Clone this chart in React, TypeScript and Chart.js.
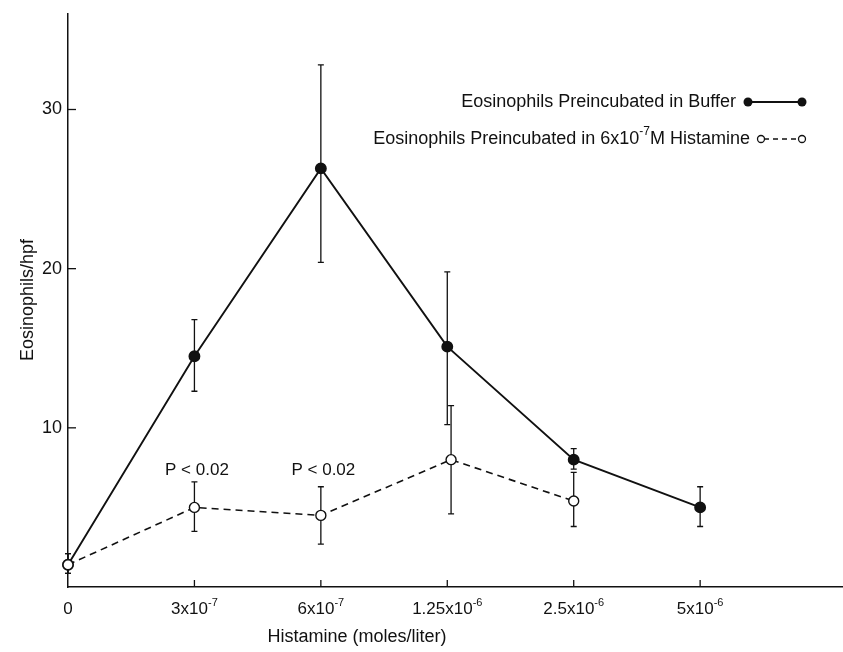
import React, { useEffect, useRef } from "react";
import { Chart, registerables } from "chart.js";

Chart.register(...registerables);

const xTickValues = [0, 1, 2, 3, 4, 5];
const xTickBase = ["0", "3x10", "6x10", "1.25x10", "2.5x10", "5x10"];
const xTickExp = ["", "-7", "-7", "-6", "-6", "-6"];
const yTickValues = [10, 20, 30];

const bufferX = [0, 1, 2, 3, 4, 5];
const bufferMean = [1.4, 14.5, 26.3, 15.1, 8.0, 5.0];
const bufferLow = [0.85, 12.3, 20.4, 10.2, 7.4, 3.8];
const bufferHigh = [2.1, 16.8, 32.8, 19.8, 8.7, 6.3];

const histX = [0, 1, 2, 3.03, 4];
const histMean = [1.4, 5.0, 4.5, 8.0, 5.4];
const histLow = [0.85, 3.5, 2.7, 4.6, 3.8];
const histHigh = [2.1, 6.6, 6.3, 11.4, 7.2];

const pLabelX = [1.02, 2.02];
const pLabelY = [7.3, 7.3];
const pLabelText = "P < 0.02";

const legendBuffer = "Eosinophils Preincubated in Buffer";
const legendHistPre = "Eosinophils Preincubated in 6x10";
const legendHistExp = "-7";
const legendHistPost = "M Histamine";
const yTitle = "Eosinophils/hpf";
const xTitle = "Histamine (moles/liter)";

const FONT = "'Liberation Sans', Arial, Helvetica, sans-serif";

type Seg = { t: string; sup?: boolean };

function drawSegs(ctx: CanvasRenderingContext2D, segs: Seg[], x: number, y: number, size: number, align: "left" | "center" | "right") {
  const supSize = Math.round(size * 0.65);
  const widths = segs.map((s) => {
    ctx.font = `${s.sup ? supSize : size}px ${FONT}`;
    return ctx.measureText(s.t).width;
  });
  const total = widths.reduce((a, b) => a + b, 0);
  let cx = align === "left" ? x : align === "center" ? x - total / 2 : x - total;
  ctx.textAlign = "left";
  ctx.textBaseline = "middle";
  segs.forEach((s, i) => {
    ctx.font = `${s.sup ? supSize : size}px ${FONT}`;
    ctx.fillText(s.t, cx, s.sup ? y - size * 0.38 : y);
    cx += widths[i];
  });
}

export default function App() {
  const ref = useRef<HTMLCanvasElement | null>(null);

  useEffect(() => {
    const canvas = ref.current;
    if (!canvas) return;

    const errorBars = {
      id: "errorBars",
      beforeDatasetsDraw(chart: any) {
        const ctx = chart.ctx;
        const xs = chart.scales.x;
        const ys = chart.scales.y;
        ctx.save();
        ctx.strokeStyle = "#111";
        ctx.lineWidth = 1.3;
        const draw = (xv: number[], lo: number[], hi: number[]) => {
          xv.forEach((x, i) => {
            const px = xs.getPixelForValue(x);
            const pl = ys.getPixelForValue(lo[i]);
            const ph = ys.getPixelForValue(hi[i]);
            ctx.beginPath();
            ctx.moveTo(px, pl);
            ctx.lineTo(px, ph);
            ctx.moveTo(px - 3, pl);
            ctx.lineTo(px + 3, pl);
            ctx.moveTo(px - 3, ph);
            ctx.lineTo(px + 3, ph);
            ctx.stroke();
          });
        };
        draw(bufferX, bufferLow, bufferHigh);
        draw(histX, histLow, histHigh);
        ctx.restore();
      },
    };

    const decorations = {
      id: "decorations",
      afterDraw(chart: any) {
        const ctx = chart.ctx;
        const xs = chart.scales.x;
        const ys = chart.scales.y;
        const area = chart.chartArea;
        ctx.save();
        ctx.strokeStyle = "#111";
        ctx.lineWidth = 1.3;
        // inward ticks
        yTickValues.forEach((v) => {
          const py = ys.getPixelForValue(v);
          ctx.beginPath();
          ctx.moveTo(area.left, py);
          ctx.lineTo(area.left + 8, py);
          ctx.stroke();
        });
        xTickValues.forEach((v) => {
          if (v === 0) return;
          const px = xs.getPixelForValue(v);
          ctx.beginPath();
          ctx.moveTo(px, area.bottom);
          ctx.lineTo(px, area.bottom - 7);
          ctx.stroke();
        });
        ctx.fillStyle = "#111";
        // x tick labels with superscripts
        xTickValues.forEach((v, i) => {
          const segs: Seg[] = [{ t: xTickBase[i] }];
          if (xTickExp[i]) segs.push({ t: xTickExp[i], sup: true });
          drawSegs(ctx, segs, xs.getPixelForValue(v), area.bottom + 22, 17, "center");
        });
        // P labels
        ctx.font = `17px ${FONT}`;
        ctx.textAlign = "center";
        ctx.textBaseline = "middle";
        pLabelX.forEach((x, i) => {
          ctx.fillText(pLabelText, xs.getPixelForValue(x), ys.getPixelForValue(pLabelY[i]));
        });
        // axis titles
        ctx.font = `18px ${FONT}`;
        ctx.textAlign = "center";
        ctx.textBaseline = "middle";
        ctx.fillText(xTitle, 357, 637);
        ctx.save();
        ctx.translate(28, 300);
        ctx.rotate(-Math.PI / 2);
        ctx.fillText(yTitle, 0, 0);
        ctx.restore();
        // legend
        ctx.font = `18px ${FONT}`;
        ctx.textAlign = "right";
        ctx.textBaseline = "middle";
        ctx.fillText(legendBuffer, 736, 102);
        drawSegs(
          ctx,
          [{ t: legendHistPre }, { t: legendHistExp, sup: true }, { t: legendHistPost }],
          750,
          139,
          18,
          "right"
        );
        // legend symbols
        ctx.lineWidth = 1.8;
        ctx.beginPath();
        ctx.moveTo(748, 102);
        ctx.lineTo(802, 102);
        ctx.stroke();
        [748, 802].forEach((x) => {
          ctx.beginPath();
          ctx.arc(x, 102, 4.5, 0, Math.PI * 2);
          ctx.fill();
        });
        ctx.lineWidth = 1.3;
        ctx.setLineDash([5, 4]);
        ctx.beginPath();
        ctx.moveTo(764, 139);
        ctx.lineTo(798, 139);
        ctx.stroke();
        ctx.setLineDash([]);
        [761, 802].forEach((x) => {
          ctx.beginPath();
          ctx.arc(x, 139, 3.5, 0, Math.PI * 2);
          ctx.fillStyle = "#fff";
          ctx.fill();
          ctx.stroke();
        });
        ctx.restore();
      },
    };

    const chart = new Chart(canvas, {
      type: "line",
      data: {
        datasets: [
          {
            label: legendHistPre + legendHistExp + legendHistPost,
            data: histX.map((x, i) => ({ x, y: histMean[i] })),
            borderColor: "#111",
            borderWidth: 1.6,
            borderDash: [7, 5],
            pointRadius: 5,
            pointBackgroundColor: "#fff",
            pointBorderColor: "#111",
            pointBorderWidth: 1.4,
            tension: 0,
            order: 0,
            clip: false,
          },
          {
            label: legendBuffer,
            data: bufferX.map((x, i) => ({ x, y: bufferMean[i] })),
            borderColor: "#111",
            borderWidth: 1.9,
            pointRadius: 5,
            pointBackgroundColor: "#111",
            pointBorderColor: "#111",
            tension: 0,
            order: 1,
            clip: false,
          },
        ],
      },
      options: {
        responsive: false,
        animation: false,
        layout: { autoPadding: false, padding: { top: 14, left: 0, right: 0, bottom: 0 } },
        plugins: { legend: { display: false }, tooltip: { enabled: false } },
        scales: {
          x: {
            type: "linear",
            min: 0,
            max: 6.13,
            grid: { display: true, drawOnChartArea: false, drawTicks: false },
            border: { display: true, color: "#111", width: 1.5 },
            afterBuildTicks(scale: any) {
              scale.ticks = xTickValues.map((v) => ({ value: v }));
            },
            afterFit(scale: any) {
              scale.height = 65;
              scale.paddingLeft = 0;
              scale.paddingRight = 0;
            },
            ticks: { display: false },
          },
          y: {
            type: "linear",
            min: 0,
            max: 36,
            grid: { display: true, drawOnChartArea: false, drawTicks: false },
            border: { display: true, color: "#111", width: 1.5 },
            afterBuildTicks(scale: any) {
              scale.ticks = yTickValues.map((v) => ({ value: v }));
            },
            afterFit(scale: any) {
              scale.width = 68;
              scale.paddingTop = 0;
              scale.paddingBottom = 0;
            },
            ticks: {
              padding: 6,
              color: "#111",
              font: { family: FONT, size: 18 },
              callback: (v: any) => String(v),
            },
          },
        },
      },
      plugins: [errorBars, decorations],
    });

    return () => chart.destroy();
  }, []);

  return (
    <div style={{ position: "absolute", left: 0, top: 0, width: 843, height: 652, background: "#fff" }}>
      <canvas ref={ref} width={843} height={652} style={{ display: "block" }} />
    </div>
  );
}
